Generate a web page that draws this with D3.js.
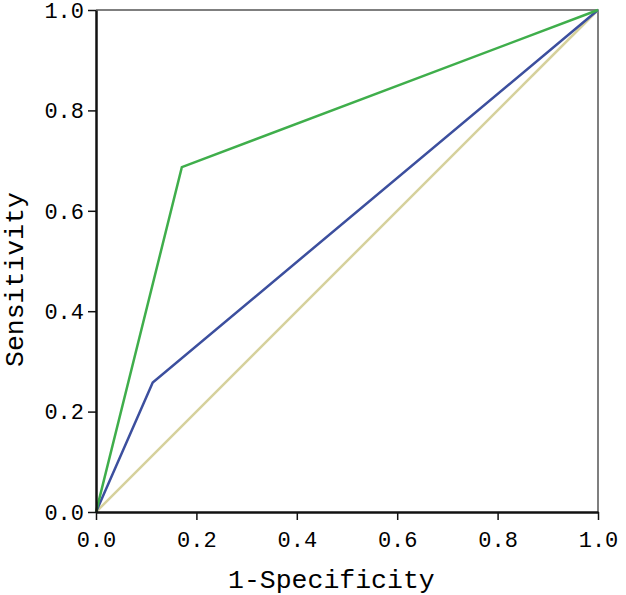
<!DOCTYPE html>
<html>
<head>
<meta charset="utf-8">
<script src="https://cdn.jsdelivr.net/npm/d3@7"></script>
<style>
body { margin: 0; background: #fff; }
text { font-family: "Liberation Mono", "DejaVu Sans Mono", monospace; fill: #000; }
</style>
</head>
<body>
<script>
// ROC curves
var greenCurve = [[0, 0], [0.171, 0.687], [1, 1]];
var blueCurve = [[0, 0], [0.113, 0.258], [1, 1]];
var refLine = [[0, 0], [1, 1]];
var tickValues = [0, 0.2, 0.4, 0.6, 0.8, 1.0];

var width = 626, height = 595;
var margin = {left: 96, right: 28, top: 10, bottom: 83};
var bodyWidth = width - margin.left - margin.right;
var bodyHeight = height - margin.top - margin.bottom;

var svg = d3.select("body").append("svg")
    .attr("width", width).attr("height", height);
var g = svg.append("g")
    .attr("transform", "translate(" + [margin.left, margin.top] + ")");

var xScale = d3.scaleLinear().domain([0, 1]).range([0, bodyWidth]);
var yScale = d3.scaleLinear().domain([0, 1]).range([bodyHeight, 0]);

// frame on top and right
g.append("path")
    .attr("d", "M0,0H" + bodyWidth + "V" + bodyHeight)
    .attr("fill", "none").attr("stroke", "#555").attr("stroke-width", 1.5);

var line = d3.line().x(d => xScale(d[0])).y(d => yScale(d[1]));

g.append("path").datum(refLine).attr("d", line)
    .attr("fill", "none").attr("stroke", "#d6d19c").attr("stroke-width", 2.5);
g.append("path").datum(blueCurve).attr("d", line)
    .attr("fill", "none").attr("stroke", "#3c4f9e").attr("stroke-width", 2.5);
g.append("path").datum(greenCurve).attr("d", line)
    .attr("fill", "none").attr("stroke", "#3fae4b").attr("stroke-width", 2.5);

var fmt = d3.format(".1f");
var axisX = d3.axisBottom(xScale).tickValues(tickValues).tickFormat(fmt).tickSize(8).tickSizeOuter(0);
var axisY = d3.axisLeft(yScale).tickValues(tickValues).tickFormat(fmt).tickSize(8).tickSizeOuter(0);

var gx = g.append("g").attr("transform", "translate(0," + bodyHeight + ")").call(axisX);
var gy = g.append("g").call(axisY);

[gx, gy].forEach(a => {
    a.select(".domain").attr("stroke", "#111").attr("stroke-width", 2.5);
    a.selectAll(".tick line").attr("stroke", "#111").attr("stroke-width", 1.5);
    a.selectAll(".tick text")
        .style("font-size", "22px")
        .attr("fill", "#000");
});
gx.selectAll(".tick text").attr("y", 35).attr("dy", null);
gy.selectAll(".tick text").attr("x", -12).attr("dy", "0.33em");

svg.append("text")
    .attr("x", 228)
    .attr("y", 588)
    .style("font-size", "26.5px")
    .text("1-Specificity");

svg.append("text")
    .attr("transform", "translate(23,367) rotate(-90)")
    .style("font-size", "26.5px")
    .text("Sensitivity");
</script>
</body>
</html>
